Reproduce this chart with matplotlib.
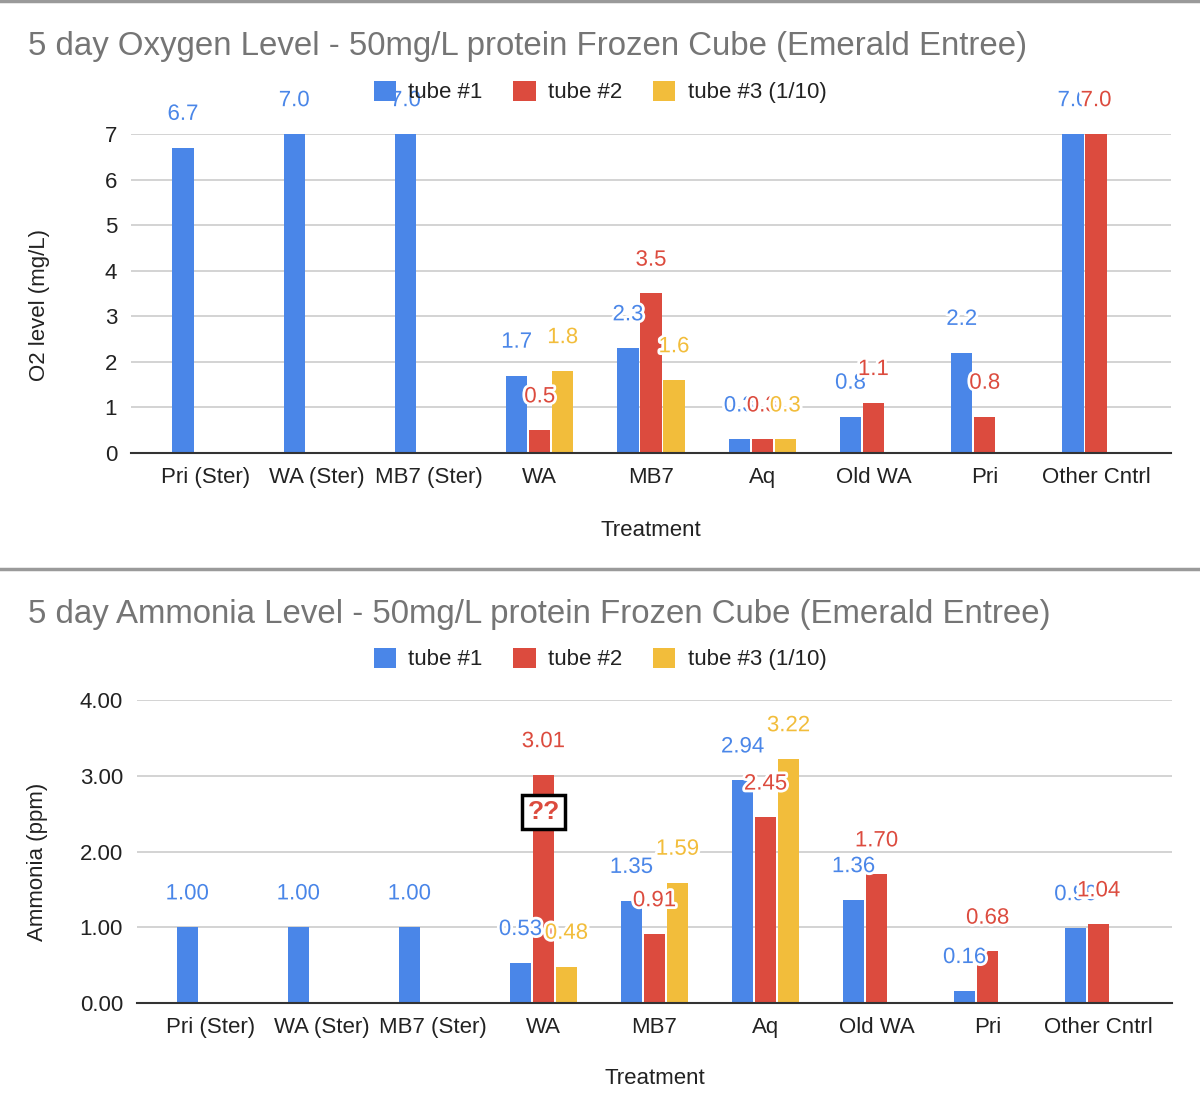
import matplotlib
matplotlib.use("Agg")
import matplotlib.pyplot as plt
import matplotlib.patheffects as pe
from matplotlib.patches import Patch
from matplotlib.lines import Line2D
import numpy as np

plt.rcParams["font.family"] = ["Liberation Sans", "DejaVu Sans"]

CATEGORIES = ["Pri (Ster)", "WA (Ster)", "MB7 (Ster)", "WA", "MB7", "Aq",
              "Old WA", "Pri", "Other Cntrl"]
SERIES = ["tube #1", "tube #2", "tube #3 (1/10)"]
COLORS = ["#4a86e8", "#dc4b3e", "#f2bd3b"]

nan = np.nan
oxygen_t1 = [6.7, 7.0, 7.0, 1.7, 2.3, 0.3, 0.8, 2.2, 7.0]
oxygen_t2 = [nan, nan, nan, 0.5, 3.5, 0.3, 1.1, 0.8, 7.0]
oxygen_t3 = [nan, nan, nan, 1.8, 1.6, 0.3, nan, nan, nan]

ammonia_t1 = [1.00, 1.00, 1.00, 0.53, 1.35, 2.94, 1.36, 0.16, 0.99]
ammonia_t2 = [nan, nan, nan, 3.01, 0.91, 2.45, 1.70, 0.68, 1.04]
ammonia_t3 = [nan, nan, nan, 0.48, 1.59, 3.22, nan, nan, nan]

W, H = 1200, 1118
fig = plt.figure(figsize=(W / 100, H / 100), dpi=100)


def fx(px):
    return px / W


def fy(py):
    return 1 - py / H


def draw_panel(rect, data, ylim, yticks, yfmt, lblfmt, xlim):
    ax = fig.add_axes(rect)
    x = np.arange(len(CATEGORIES))
    off = 0.207
    w = 0.19
    for i, (vals, col) in enumerate(zip(data, COLORS)):
        vals = np.array(vals, dtype=float)
        xs = x + (i - 1) * off
        ax.bar(xs, vals, width=w, color=col, zorder=2)
        for xi, v in zip(xs, vals):
            if np.isnan(v):
                continue
            ax.annotate(lblfmt.format(v), (xi, v), xytext=(0, 24),
                        textcoords="offset points", ha="center", va="center",
                        fontsize=16, color=col, zorder=4,
                        path_effects=[pe.withStroke(linewidth=4, foreground="white")])
    ax.set_xlim(*xlim)
    ax.set_ylim(*ylim)
    ax.set_yticks(yticks)
    ax.set_yticklabels([yfmt.format(t) for t in yticks])
    ax.set_xticks(x)
    ax.set_xticklabels(CATEGORIES)
    ax.tick_params(axis="both", length=0, labelsize=16, labelcolor="#222222")
    ax.tick_params(axis="x", pad=10)
    ax.tick_params(axis="y", pad=10)
    ax.grid(axis="y", color="#cccccc", linewidth=1.2, zorder=0)
    for s in ["top", "right", "left"]:
        ax.spines[s].set_visible(False)
    ax.spines["bottom"].set_color("#333333")
    ax.spines["bottom"].set_linewidth(1.5)
    ax.spines["bottom"].set_zorder(3)
    ax.set_axisbelow(True)
    return ax


# Top panel: oxygen
ax1 = draw_panel([fx(131), fy(453), fx(1171 - 131), fy(134) - fy(453)],
                 [oxygen_t1, oxygen_t2, oxygen_t3], (0, 7), list(range(8)),
                 "{:d}", "{:.1f}", (-0.674, 8.674))

# Bottom panel: ammonia
ax2 = draw_panel([fx(137), fy(1003), fx(1172 - 137), fy(700) - fy(1003)],
                 [ammonia_t1, ammonia_t2, ammonia_t3], (0, 4), [0, 1, 2, 3, 4],
                 "{:.2f}", "{:.2f}", (-0.66, 8.66))

# "??" note on the WA tube #2 ammonia bar
ax2.text(3, 2.52, "??", ha="center", va="center", fontsize=19,
         fontweight="bold", color="#dc4b3e", zorder=5,
         bbox=dict(boxstyle="square,pad=0.2", fc="white", ec="black", lw=2.5))

# Titles, axis labels
title_kw = dict(fontsize=23.8, color="#757575", ha="left", va="center")
fig.text(fx(28), fy(47), "5 day Oxygen Level - 50mg/L protein Frozen Cube (Emerald Entree)", **title_kw)
fig.text(fx(28), fy(614), "5 day Ammonia Level - 50mg/L protein Frozen Cube (Emerald Entree)", **title_kw)

lab_kw = dict(fontsize=16, color="#222222", ha="center", va="center")
fig.text(fx(651), fy(530), "Treatment", **lab_kw)
fig.text(fx(655), fy(1078), "Treatment", **lab_kw)
fig.text(fx(40), fy(305), "O2 level (mg/L)", rotation=90, **lab_kw)
fig.text(fx(38), fy(862), "Ammonia (ppm)", rotation=90, **lab_kw)

# Legends
handles = [Patch(facecolor=c, edgecolor="none", label=s) for c, s in zip(COLORS, SERIES)]
for ly in (92, 659):
    leg = fig.legend(handles=handles, loc="center", bbox_to_anchor=(fx(600), fy(ly)),
                     ncol=3, frameon=False, fontsize=16, handlelength=1.0,
                     handleheight=1.0, handletextpad=0.55, columnspacing=1.4,
                     borderaxespad=0)
    for t in leg.get_texts():
        t.set_color("#222222")

# Separator lines
for ly in (1, 569):
    fig.add_artist(Line2D([0, 1], [fy(ly), fy(ly)], color="#9a9a9a", lw=2.5))

fig.savefig("out.png", dpi=100, facecolor="white")
